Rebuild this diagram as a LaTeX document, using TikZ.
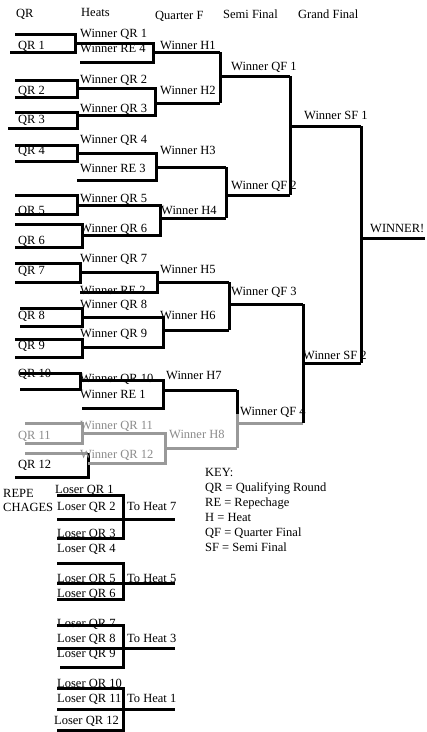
\documentclass[tikz,border=0pt]{standalone}
\usepackage{fontspec}
\setmainfont{Liberation Serif}
\begin{document}
\begin{tikzpicture}[x=1pt,y=-1pt,
  ln/.style={line width=3pt,black,line join=miter},
  gl/.style={line width=3pt,gray!80,line join=miter},
  tx/.style={anchor=base west,inner sep=0pt,font=\fontsize{12.5}{14}\selectfont},
  gtx/.style={tx,text=gray!90}]
\useasboundingbox (0,0) rectangle (427,732);
\fill[white] (0,0) rectangle (427,732);
% headers
\node[tx] (hqr) at (16,17) {QR};
\node[tx] (hh) at (81,16) {Heats};
\node[tx] (hqf) at (155,19) {Quarter F};
\node[tx] (hsf) at (223,18) {Semi Final};
\node[tx] (hgf) at (298,18) {Grand Final};
% QR boxes
\draw[ln] (15,34)--(75,34)--(75,52)--(10,52);
\draw[ln] (15,80)--(77,80)--(77,97)--(15,97);
\draw[ln] (15,112)--(77,112)--(77,128)--(8,128);
\draw[ln] (15,145)--(77,145)--(77,161)--(15,161);
\draw[ln] (15,195)--(77,195)--(77,214)--(15,214);
\draw[ln] (15,224)--(82,224)--(82,247)--(15,247);
\draw[ln] (15,263)--(80,263)--(80,282)--(15,282);
\draw[ln] (20,308)--(82,308)--(82,326)--(20,326);
\draw[ln] (15,339)--(82,339)--(82,357)--(15,357);
\draw[ln] (20,373)--(80,373)--(80,389)--(20,389);
\draw[gl] (25,423)--(82,423)--(82,443)--(25,443);
\draw[gl] (25,453)--(88,453);
\draw[ln] (88,453)--(88,477)--(15,477);
% heats
\draw[ln] (75,43)--(153,43)--(153,62)--(80,62); \draw[ln] (153,52)--(220,52);
\draw[ln] (77,88)--(155,88)--(155,115)--(77,115); \draw[ln] (155,103)--(220,103);
\draw[ln] (77,153)--(156,153)--(156,180)--(77,180); \draw[ln] (156,167)--(226,167);
\draw[ln] (77,205)--(160,205)--(160,235)--(82,235); \draw[ln] (160,218)--(226,218);
\draw[ln] (80,272)--(157,272)--(157,292)--(80,292); \draw[ln] (157,282)--(229,282);
\draw[ln] (82,317)--(163,317)--(163,347)--(82,347); \draw[ln] (163,330)--(229,330);
\draw[ln] (80,380)--(163,380)--(163,408)--(82,408); \draw[ln] (163,390)--(237,390);
\draw[gl] (82,433)--(165,433)--(165,463)--(88,463); \draw[gl] (165,448)--(237,448);
% quarter finals
\draw[ln] (220,52)--(220,103); \draw[ln] (220,76)--(290,76);
\draw[ln] (226,167)--(226,218); \draw[ln] (228,195)--(290,195);
\draw[ln] (229,282)--(229,330); \draw[ln] (229,304)--(303,304);
\draw[ln] (237,390)--(237,414); \draw[gl] (237,414)--(237,448);
\draw[gl] (237,423)--(303,423);
% semi finals
\draw[ln] (290,76)--(290,195); \draw[ln] (290,126)--(361,126);
\draw[ln] (303,304)--(303,423); \draw[ln] (303,363)--(361,363);
\draw[ln] (361,126)--(361,363); \draw[ln] (361,238)--(425,238);
% QR labels
\node[tx] (q1) at (18,49) {QR 1};
\node[tx] (q2) at (18,94) {QR 2};
\node[tx] (q3) at (18,123) {QR 3};
\node[tx] (q4) at (18,154) {QR 4};
\node[tx] (q5) at (18,214) {QR 5};
\node[tx] (q6) at (18,244) {QR 6};
\node[tx] (q7) at (18,274) {QR 7};
\node[tx] (q8) at (18,319) {QR 8};
\node[tx] (q9) at (18,349) {QR 9};
\node[tx] (q10) at (18,377) {QR 10};
\node[gtx] (q11) at (18,439) {QR 11};
\node[tx] (q12) at (18,468) {QR 12};
% heat labels
\node[tx] (w1) at (80,37) {Winner QR 1};
\node[tx] (r4) at (80,52) {Winner RE 4};
\node[tx] (w2) at (80,83) {Winner QR 2};
\node[tx] (w3) at (80,112) {Winner QR 3};
\node[tx] (w4) at (80,143) {Winner QR 4};
\node[tx] (r3) at (80,172) {Winner RE 3};
\node[tx] (w5) at (80,202) {Winner QR 5};
\node[tx] (w6) at (80,232) {Winner QR 6};
\node[tx] (w7) at (80,262) {Winner QR 7};
\node[tx] (r2) at (80,294) {Winner RE 2};
\node[tx] (w8) at (80,308) {Winner QR 8};
\node[tx] (w9) at (80,337) {Winner QR 9};
\node[tx] (w10) at (80,382) {Winner QR 10};
\node[tx] (r1) at (80,398) {Winner RE 1};
\node[gtx] (w11) at (80,429) {Winner QR 11};
\node[gtx] (w12) at (80,458) {Winner QR 12};
% quarter final labels
\node[tx] (h1) at (160,49) {Winner H1};
\node[tx] (h2) at (160,94) {Winner H2};
\node[tx] (h3) at (160,154) {Winner H3};
\node[tx] (h4) at (161,214) {Winner H4};
\node[tx] (h5) at (160,273) {Winner H5};
\node[tx] (h6) at (160,319) {Winner H6};
\node[tx] (h7) at (166,379) {Winner H7};
\node[gtx] (h8) at (169,438) {Winner H8};
% semi / final labels
\node[tx] (qf1) at (231,70) {Winner QF 1};
\node[tx] (qf2) at (231,189) {Winner QF 2};
\node[tx] (qf3) at (231,295) {Winner QF 3};
\node[tx] (qf4) at (240,415) {Winner QF 4};
\node[tx] (sf1) at (304,119) {Winner SF 1};
\node[tx] (sf2) at (303,359) {Winner SF 2};
\node[tx] (win) at (370,232) {WINNER!};
% key
\node[tx] (k0) at (205,476) {KEY:};
\node[tx] (k1) at (205,491) {QR = Qualifying Round};
\node[tx] (k2) at (205,506) {RE = Repechage};
\node[tx] (k3) at (205,521) {H = Heat};
\node[tx] (k4) at (205,536) {QF = Quarter Final};
\node[tx] (k5) at (205,551) {SF = Semi Final};
% repechages
\node[tx] (rp1) at (3,497) {REPE};
\node[tx] (rp2) at (3,511) {CHAGES};
\draw[ln] (57,495)--(123,495)--(123,538)--(57,538); \draw[ln] (57,519)--(175,519);
\draw[ln] (57,563)--(123,563)--(123,599)--(57,599); \draw[ln] (57,583)--(175,583);
\draw[ln] (57,625)--(123,625)--(123,667)--(60,667); \draw[ln] (57,648)--(175,648);
\draw[ln] (57,688)--(123,688)--(123,730)--(57,730); \draw[ln] (57,709)--(175,709);
\node[tx] (l1) at (55,493) {Loser QR 1};
\node[tx] (l2) at (57,510) {Loser QR 2};
\node[tx] (l3) at (57,537) {Loser QR 3};
\node[tx] (l4) at (57,552) {Loser QR 4};
\node[tx] (l5) at (57,582) {Loser QR 5};
\node[tx] (l6) at (57,597) {Loser QR 6};
\node[tx] (l7) at (57,627) {Loser QR 7};
\node[tx] (l8) at (57,642) {Loser QR 8};
\node[tx] (l9) at (57,657) {Loser QR 9};
\node[tx] (l10) at (57,687) {Loser QR 10};
\node[tx] (l11) at (57,702) {Loser QR 11};
\node[tx] (l12) at (54,724) {Loser QR 12};
\node[tx] (th7) at (127,510) {To Heat 7};
\node[tx] (th5) at (127,582) {To Heat 5};
\node[tx] (th3) at (127,642) {To Heat 3};
\node[tx] (th1) at (127,702) {To Heat 1};
\end{tikzpicture}
\end{document}
